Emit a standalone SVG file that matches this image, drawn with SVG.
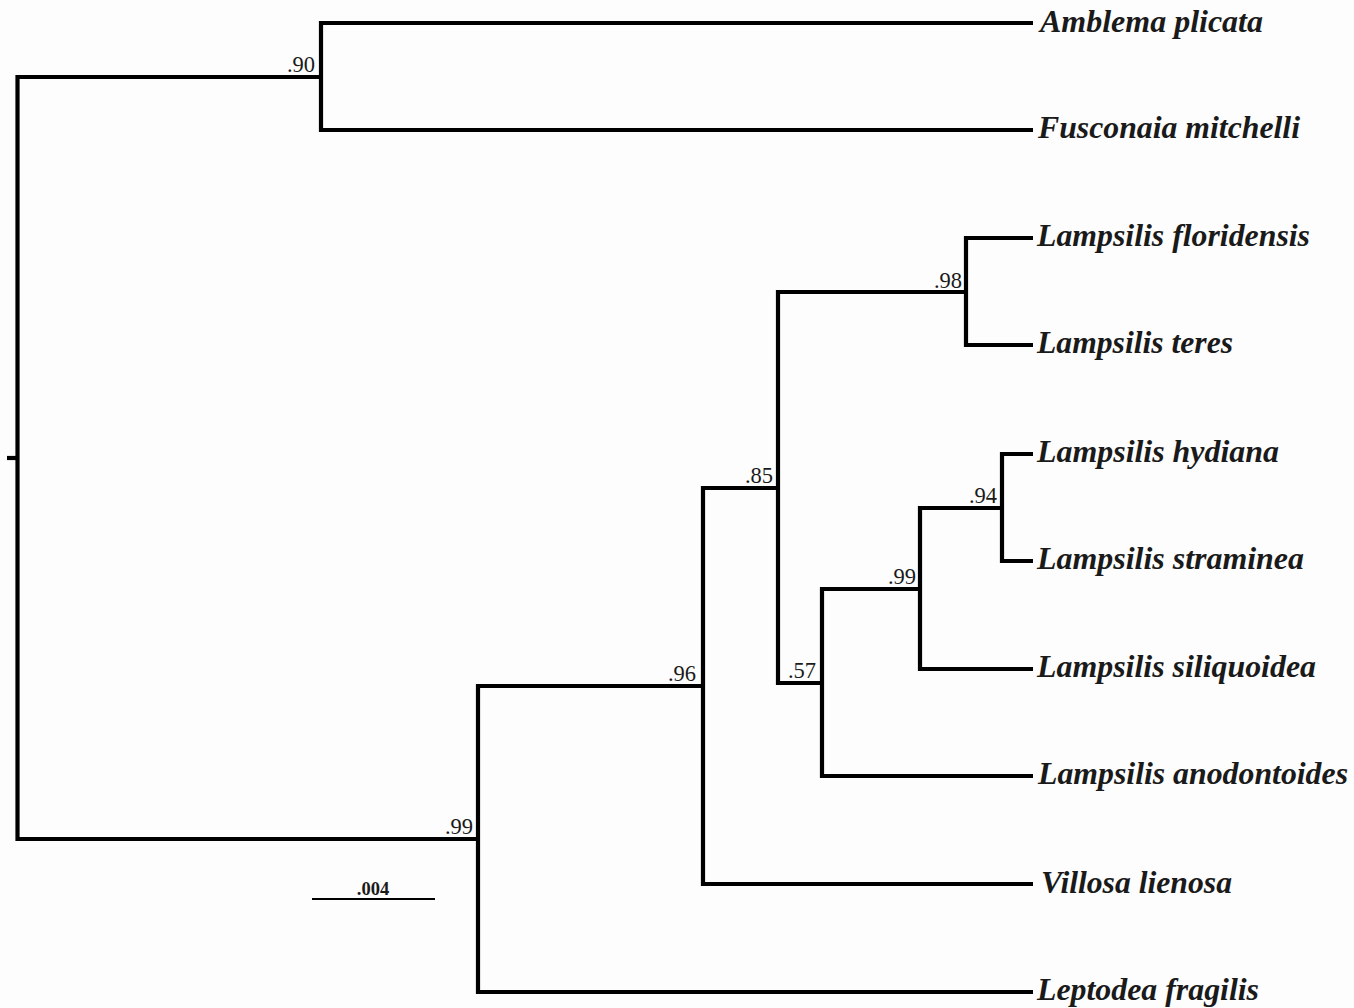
<svg xmlns="http://www.w3.org/2000/svg" width="1354" height="1008" viewBox="0 0 1354 1008">
<style>
.br{fill:none;stroke:#000;stroke-width:4.2;stroke-linejoin:miter;stroke-linecap:butt}
.tx{font-family:"Liberation Serif","Times New Roman",serif;font-style:italic;font-weight:bold;font-size:30.5px;fill:#1a1a1a}
.bs{font-family:"Liberation Serif","Times New Roman",serif;font-size:22.5px;fill:#1a1a1a;text-anchor:end}
.sc{font-family:"Liberation Serif","Times New Roman",serif;font-size:18.5px;font-weight:bold;fill:#1a1a1a;text-anchor:middle}
</style>
<rect width="1354" height="1008" fill="#fdfdfd"/>
<g id="connectors">
<path class="br" d="M7,458 H17.5"/>
<path class="br" d="M321,77 H17.5 V839 H478"/>
<path class="br" d="M1033,23 H321 V130 H1033"/>
<path class="br" d="M703,686 H478 V992 H1033"/>
<path class="br" d="M778,488 H703 V884 H1033"/>
<path class="br" d="M966,292 H778 V683 H822"/>
<path class="br" d="M1033,238 H966 V345 H1033"/>
<path class="br" d="M920,589 H822 V776 H1033"/>
<path class="br" d="M1002,508 H920 V669 H1033"/>
<path class="br" d="M1033,454 H1002 V561 H1033"/>
</g>
<g id="n90"><text class="bs" x="315" y="72">.90</text></g>
<g id="n99a"><text class="bs" x="473" y="834">.99</text></g>
<g id="n96"><text class="bs" x="696" y="681">.96</text></g>
<g id="n85"><text class="bs" x="773" y="483">.85</text></g>
<g id="n98"><text class="bs" x="962" y="288">.98</text></g>
<g id="n57"><text class="bs" x="816" y="678">.57</text></g>
<g id="n99b"><text class="bs" x="916" y="584">.99</text></g>
<g id="n94"><text class="bs" x="997" y="503">.94</text></g>
<g id="amblema"><text class="tx" x="1040" y="32" textLength="223" lengthAdjust="spacingAndGlyphs">Amblema plicata</text></g>
<g id="fusconaia"><text class="tx" x="1038" y="138" textLength="262" lengthAdjust="spacingAndGlyphs">Fusconaia mitchelli</text></g>
<g id="floridensis"><text class="tx" x="1037" y="246" textLength="273" lengthAdjust="spacingAndGlyphs">Lampsilis floridensis</text></g>
<g id="teres"><text class="tx" x="1037" y="353" textLength="196" lengthAdjust="spacingAndGlyphs">Lampsilis teres</text></g>
<g id="hydiana"><text class="tx" x="1037" y="462" textLength="242" lengthAdjust="spacingAndGlyphs">Lampsilis hydiana</text></g>
<g id="straminea"><text class="tx" x="1037" y="569" textLength="267" lengthAdjust="spacingAndGlyphs">Lampsilis straminea</text></g>
<g id="siliquoidea"><text class="tx" x="1037" y="677" textLength="279" lengthAdjust="spacingAndGlyphs">Lampsilis siliquoidea</text></g>
<g id="anodontoides"><text class="tx" x="1038" y="784" textLength="310" lengthAdjust="spacingAndGlyphs">Lampsilis anodontoides</text></g>
<g id="villosa"><text class="tx" x="1041" y="893" textLength="191" lengthAdjust="spacingAndGlyphs">Villosa lienosa</text></g>
<g id="leptodea"><text class="tx" x="1037" y="1000" textLength="222" lengthAdjust="spacingAndGlyphs">Leptodea fragilis</text></g>
<g id="scalebar">
<path d="M312,899 H435" stroke="#000" stroke-width="2" fill="none"/>
<text class="sc" x="373" y="895">.004</text>
</g>
</svg>
